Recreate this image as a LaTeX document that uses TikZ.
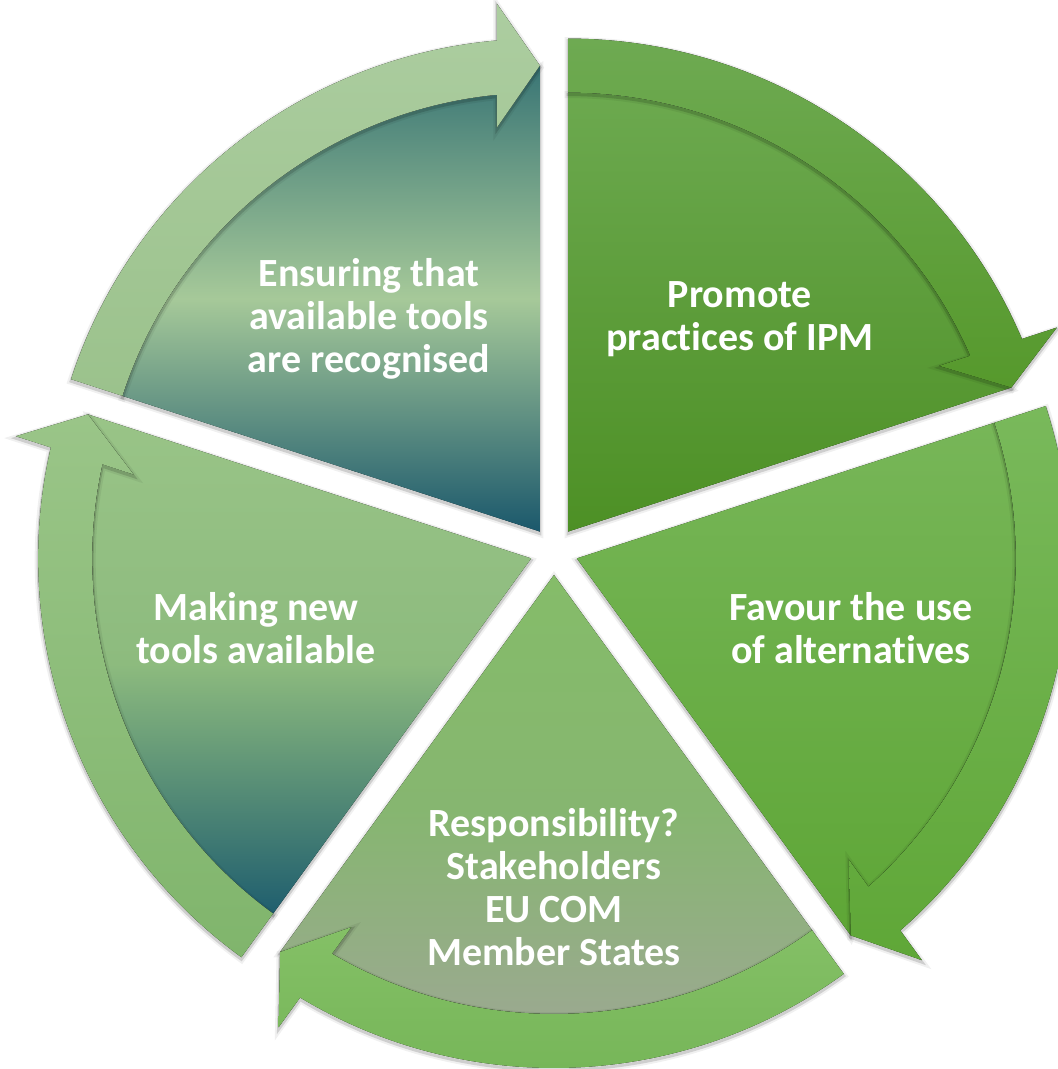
\documentclass[tikz,border=0pt]{standalone}
\usepackage{fontspec}
\setmainfont{Carlito}[Ligatures=NoCommon]
\usetikzlibrary{positioning}
\tikzset{
    %Define fills of the five segments
    trbody/.style={top color={rgb,255:red,108;green,169;blue,79}, bottom color={rgb,255:red,77;green,144;blue,37}},
    trband/.style={top color={rgb,255:red,110;green,170;blue,82}, bottom color={rgb,255:red,86;green,153;blue,44}},
    rbody/.style={top color={rgb,255:red,119;green,182;blue,88}, bottom color={rgb,255:red,94;green,166;blue,54}},
    rband/.style={top color={rgb,255:red,121;green,185;blue,91}, bottom color={rgb,255:red,95;green,167;blue,55}},
    bbody/.style={top color={rgb,255:red,133;green,188;blue,105}, bottom color={rgb,255:red,157;green,168;blue,147}, middle color={rgb,255:red,134;green,182;blue,112}},
    bband/.style={top color={rgb,255:red,132;green,192;blue,102}, bottom color={rgb,255:red,116;green,180;blue,86}},
    lbody/.style={top color={rgb,255:red,153;green,196;blue,135}, bottom color={rgb,255:red,31;green,94;blue,110}, middle color={rgb,255:red,141;green,187;blue,126}},
    lband/.style={top color={rgb,255:red,154;green,197;blue,136}, bottom color={rgb,255:red,128;green,181;blue,108}},
    tlbody/.style={top color={rgb,255:red,57;green,117;blue,117}, bottom color={rgb,255:red,27;green,88;blue,108}, middle color={rgb,255:red,166;green,201;blue,153}},
    tlband/.style={top color={rgb,255:red,172;green,205;blue,160}, bottom color={rgb,255:red,155;green,194;blue,140}},
    %Define soft shadow round each piece
    halo/.style={
           preaction={draw=black, line width=7pt, opacity=.06,
                      transform canvas={yshift=-2pt}},
           preaction={draw=black, line width=3pt, opacity=.14,
                      transform canvas={yshift=-2pt}}},
    %Define style for segment texts
    segtext/.style={
           text=white,
           font=\fontsize{40}{43}\selectfont\bfseries,
           align=center}
}
\begin{document}
\begin{tikzpicture}[x=1pt,y=1pt]
    \useasboundingbox (0,0) rectangle (1058,1069);
    \coordinate (c) at (554,518);
    %segments, clockwise from the top
    \foreach \a/\body/\band in {18/trbody/trband, -54/rbody/rband, -126/bbody/bband, -198/lbody/lband, 90/tlbody/tlband}{
      \begin{scope}[shift={(c)}, shift={({\a+36}:24pt)}]
        \fill[halo, \body] (0,0) -- ({\a+72}:439pt)
            arc[start angle=\a+72, end angle=\a+5.62, radius=439pt]
            -- (\a:466pt) -- cycle;
        \fill[halo, \band] ({\a+72}:439pt) -- ({\a+72}:493pt)
            arc[start angle=\a+72, end angle=\a+5, radius=493pt]
            -- ({\a+4.66}:529.7pt) -- (\a:466pt) -- ({\a+6.08}:406.3pt)
            -- ({\a+5.62}:439pt)
            arc[start angle=\a+5.62, end angle=\a+72, radius=439pt] -- cycle;
      \end{scope}
    }
    %texts
    \node[segtext] (ensure) at (369,750) {Ensuring that\\available tools\\are recognised};
    \node[segtext] (promote) at (740,750) {Promote\\practices of IPM};
    \node[segtext] (favour) at (851,441) {Favour the use\\of alternatives};
    \node[segtext] (resp) at (554,182) {Responsibility?\\Stakeholders\\EU COM\\Member States};
    \node[segtext] (making) at (256,441) {Making new\\tools available};
\end{tikzpicture}
\end{document}
